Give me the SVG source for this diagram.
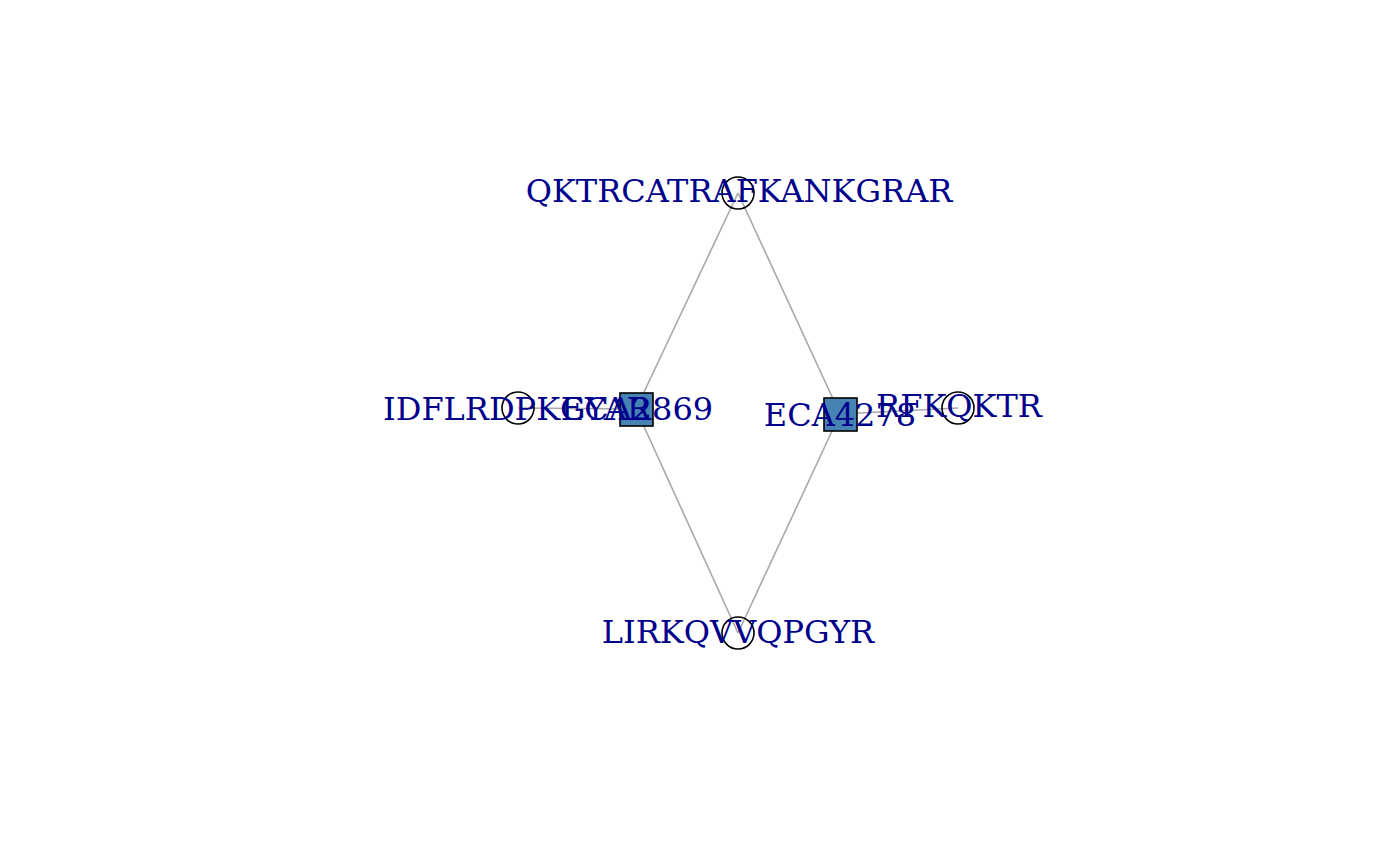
<svg xmlns="http://www.w3.org/2000/svg" width="1400" height="865" viewBox="0 0 1400 865">
<style>
.e{stroke:#a8a8a8;stroke-width:1.6;fill:none}
.c{fill:none;stroke:#000000;stroke-width:1.6}
.s{fill:#4682b4;stroke:#000000;stroke-width:1.6}
.t{font-family:"DejaVu Serif",serif;font-size:32px;fill:#00008b;text-anchor:middle}
</style>
<rect width="1400" height="865" fill="#ffffff"/>
<g id="edges">
<line class="e" x1="738" y1="193" x2="636" y2="409"/>
<line class="e" x1="738" y1="193" x2="840" y2="414"/>
<line class="e" x1="636" y1="409" x2="738" y2="633"/>
<line class="e" x1="840" y1="414" x2="738" y2="633"/>
<line class="e" x1="636" y1="409" x2="518" y2="408"/>
<line class="e" x1="840" y1="414" x2="958" y2="408"/>
</g>
<g id="n_QKTRCATRAFKANKGRAR"><circle class="c" cx="738" cy="193" r="16"/></g>
<g id="n_IDFLRDPKGYAR"><circle class="c" cx="518" cy="408" r="16"/></g>
<g id="n_RFKQKTR"><circle class="c" cx="958" cy="408" r="16"/></g>
<g id="n_LIRKQVVQPGYR"><circle class="c" cx="738" cy="633" r="16"/></g>
<g id="n_ECA2869"><rect class="s" x="620" y="393" width="33" height="33"/></g>
<g id="n_ECA4278"><rect class="s" x="824" y="398" width="33" height="33"/></g>
<g id="labels">
<text class="t" x="739" y="202">QKTRCATRAFKANKGRAR</text>
<text class="t" x="517" y="420">IDFLRDPKGYAR</text>
<text class="t" x="637" y="420">ECA2869</text>
<text class="t" x="840" y="426">ECA4278</text>
<text class="t" x="959" y="417">RFKQKTR</text>
<text class="t" x="738" y="643">LIRKQVVQPGYR</text>
</g>
</svg>
